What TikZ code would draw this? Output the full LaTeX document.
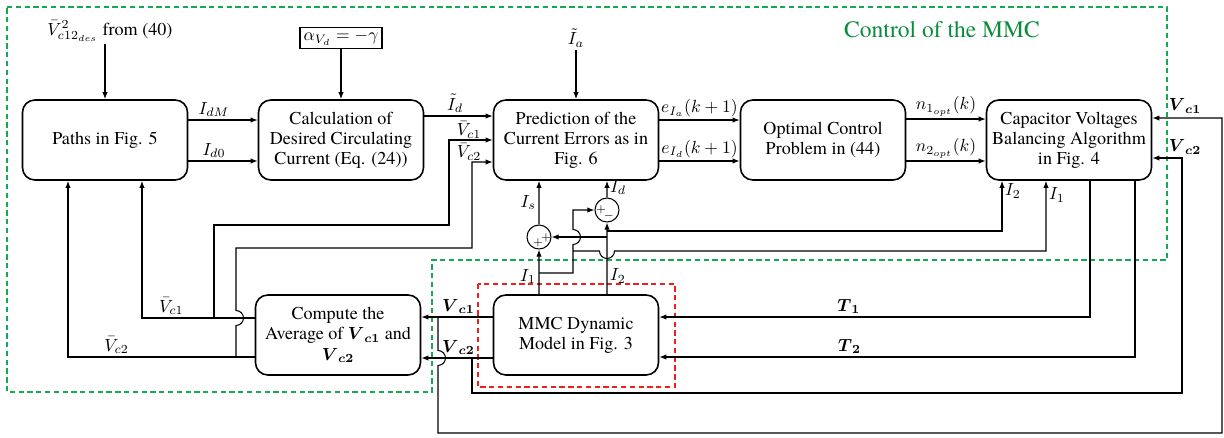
\documentclass[tikz,border=0pt]{standalone}
\usepackage{amsmath,amssymb}
\usepackage{fontspec}
\IfFontExistsTF{TeX Gyre Termes}{\setmainfont{TeX Gyre Termes}}{\setmainfont{Liberation Serif}}
\usetikzlibrary{arrows.meta}

\definecolor{ctrlgreen}{RGB}{20,170,80}
\definecolor{titlegreen}{RGB}{10,140,60}
\definecolor{mmcred}{RGB}{240,30,30}

\tikzset{
  blk/.style={draw, rounded corners=7pt, line width=0.9pt, minimum width=3.3cm,
    minimum height=1.6cm, inner sep=2pt, align=center,
    font=\fontsize{10.3}{11.5}\selectfont},
  arr/.style={-{Latex[length=4pt,width=3pt]}, line width=0.6pt},
  sumj/.style={draw, circle, minimum size=0.48cm, inner sep=0pt, line width=0.6pt},
  lbl/.style={font=\fontsize{10.3}{12}\selectfont, inner sep=1.5pt},
  sgn/.style={font=\fontsize{6}{6}\selectfont, inner sep=0pt},
  frame/.style={line width=0.9pt, dash pattern=on 3pt off 2pt},
}

\begin{document}
\begin{tikzpicture}[x=0.02cm, y=-0.02cm]
    \useasboundingbox (0,0) rectangle (1224,437);

    % Dashed frames
    \draw[frame, ctrlgreen] (7,7) -- (1167,7) -- (1167,260) -- (432,260) -- (432,392) -- (7,392) -- cycle;
    \draw[frame, mmcred] (478,284) rectangle (675,387);
    \node[text=titlegreen, font=\fontsize{13.4}{15}\selectfont] (title) at (942,30) {Control of the MMC};

    % Blocks
    \node[blk] (paths) at (105,140) {Paths in Fig. 5};
    \node[blk] (calc) at (341,140) {Calculation of\\Desired Circulating\\Current (Eq. (24))};
    \node[blk] (pred) at (576,140) {Prediction of the\\Current Errors as in\\Fig. 6};
    \node[blk] (opt) at (823,140) {Optimal Control\\Problem in (44)};
    \node[blk] (cap) at (1069,140) {Capacitor Voltages\\Balancing Algorithm\\in Fig. 4};
    \node[blk] (avg) at (338,335) {Compute the\\Average of $\boldsymbol{V}_{\boldsymbol{c1}}$ and\\$\boldsymbol{V}_{\boldsymbol{c2}}$};
    \node[blk] (mmc) at (576,335) {MMC Dynamic\\Model in Fig. 3};

    % Top inputs
    \node[lbl] (vdes) at (110,31) {$\bar{V}^2_{c12_{des}}$ from (40)};
    \draw[arr] (vdes.south -| paths.north) -- (paths.north);
    \node[draw, line width=0.6pt, inner sep=2pt, font=\fontsize{10.3}{12}\selectfont] (alpha) at (341,38) {$\alpha_{V_d}=-\gamma$};
    \draw[arr] (alpha.south) -- (calc.north);
    \node[lbl] (Ia) at (576,38) {$\tilde{I}_a$};
    \draw[arr] (Ia.south) -- (pred.north);

    % Forward path
    \draw[arr] ([yshift=0.4cm]paths.east) -- node[lbl, above, pos=0.37]{$I_{dM}$} ([yshift=0.4cm]calc.west);
    \draw[arr] ([yshift=-0.42cm]paths.east) -- node[lbl, above, pos=0.37]{$I_{d0}$} ([yshift=-0.42cm]calc.west);
    \draw[arr] ([yshift=0.48cm]calc.east) -- node[lbl, above, pos=0.45]{$\tilde{I}_d$} ([yshift=0.48cm]pred.west);
    \draw[arr] ([yshift=0.4cm]pred.east) -- node[lbl, above]{$e_{I_a}(k+1)$} ([yshift=0.4cm]opt.west);
    \draw[arr] ([yshift=-0.42cm]pred.east) -- node[lbl, above]{$e_{I_d}(k+1)$} ([yshift=-0.42cm]opt.west);
    \draw[arr] ([yshift=0.42cm]opt.east) -- node[lbl, above]{$n_{1_{opt}}(k)$} ([yshift=0.42cm]cap.west);
    \draw[arr] ([yshift=-0.42cm]opt.east) -- node[lbl, above]{$n_{2_{opt}}(k)$} ([yshift=-0.42cm]cap.west);

    % Switching signals to the model
    \draw[arr] ([xshift=0.42cm]cap.south) |- node[lbl, above, pos=0.78]{$\boldsymbol{T}_{\boldsymbol{1}}$} ([yshift=0.36cm]mmc.east);
    \draw[arr] ([xshift=1.32cm]cap.south) |- node[lbl, above, pos=0.8]{$\boldsymbol{T}_{\boldsymbol{2}}$} ([yshift=-0.44cm]mmc.east);

    % Measured capacitor voltages
    \draw[arr] ([yshift=0.36cm]mmc.west) -- node[lbl, above, pos=0.48]{$\boldsymbol{V}_{\boldsymbol{c1}}$} ([yshift=0.36cm]avg.east);
    \draw[arr] ([yshift=-0.46cm]mmc.west) -- node[lbl, above, pos=0.48]{$\boldsymbol{V}_{\boldsymbol{c2}}$} ([yshift=-0.46cm]avg.east);
    \coordinate (jv1) at (438,317);
    \coordinate (jv2) at (472,358);
    \draw[arr] (jv1) -- (438,350.5) arc[start angle=90, end angle=-90, radius=0.15cm]
        -- (438,433) -- (1222,433) |- ([yshift=0.44cm]cap.east);
    \draw[arr] (jv2) -- (472,393) -- (1182,393) |- ([yshift=-0.36cm]cap.east);
    \node[lbl] (vc1r) at (1185,106) {$\boldsymbol{V}_{\boldsymbol{c1}}$};
    \node[lbl] (vc2r) at (1185,147) {$\boldsymbol{V}_{\boldsymbol{c2}}$};

    % Averaged voltages
    \draw[arr] ([yshift=0.34cm]avg.west) -| node[lbl, above, pos=0.37]{$\bar{V}_{c1}$} ([xshift=0.74cm]paths.south);
    \draw[arr] ([yshift=-0.44cm]avg.west) -| node[lbl, above, pos=0.37]{$\bar{V}_{c2}$} ([xshift=-0.74cm]paths.south);
    \coordinate (jb1) at (214,318);
    \coordinate (jb2) at (236,357);
    \draw[arr] (jb1) -- (214,225) -- (449,225) |- (pred.west);
    \draw[arr] (jb2) -- (236,325.5) arc[start angle=-90, end angle=90, radius=0.15cm]
        -- (236,248) -- (472,248) |- ([yshift=-0.44cm]pred.west);
    \node[lbl] (vb1) at (469,130) {$\bar{V}_{c1}$};
    \node[lbl] (vb2) at (469,152) {$\bar{V}_{c2}$};

    % Summing junctions
    \node[sumj] (s1) at (539,237) {};
    \node[sumj] (s2) at (607,210) {};
    \node[sgn] at (538,243) {$+$};
    \node[sgn] at (546,238) {$+$};
    \node[sgn] at (601,210) {$+$};
    \node[sgn] at (609,216) {$-$};

    % Arm currents
    \draw[arr] ([xshift=-0.74cm]mmc.north) -- node[lbl, left, pos=0.4]{$I_1$} (s1.south);
    \draw[arr] ([xshift=0.62cm]mmc.north) -- node[lbl, right, pos=0.25]{$I_2$} (s2.south);
    \draw[arr] (s1.north) -- node[lbl, left]{$I_s$} ([xshift=-0.74cm]pred.south);
    \draw[arr] (s2.north) -- node[lbl, right, pos=0.6]{$I_d$} ([xshift=0.62cm]pred.south);
    \coordinate (ji1) at (539,273);
    \coordinate (ji2) at (607,237);
    \coordinate (ji3) at (607,231);
    \coordinate (ji4) at (573,251);
    \draw[arr] (ji2) -- (s1.east);
    \draw[arr] (ji1) -- (573,273) -- (573,244.5) arc[start angle=-90, end angle=90, radius=0.15cm]
        -- (573,210) -- (s2.west);
    \draw[arr] (ji3) -| node[lbl, right, pos=0.9]{$I_2$} ([xshift=-1.34cm]cap.south);
    \draw[arr] (ji4) -- (599.5,251) arc[start angle=180, end angle=360, radius=0.15cm]
        -- (1046,251) -- node[lbl, right, pos=0.8]{$I_1$} ([xshift=-0.46cm]cap.south);
\end{tikzpicture}
\end{document}
